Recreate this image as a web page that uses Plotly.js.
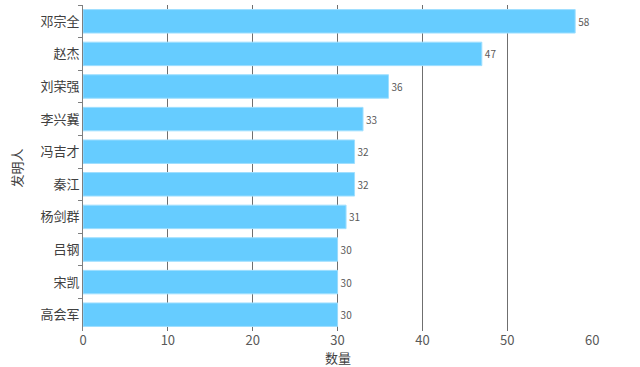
<!DOCTYPE html>
<html><head><meta charset="utf-8">
<script src="https://cdn.plot.ly/plotly-3.0.1.min.js"></script>
<style>html,body{margin:0;padding:0;background:#fff}#c{width:640px;height:367px}</style>
</head><body><div id="c"></div>
<script>
var inventors = ["邓宗全","赵杰","刘荣强","李兴冀","冯吉才","秦江","杨剑群","吕钢","宋凯","高会军"];
var counts = [58,47,36,33,32,32,31,30,30,30];
var xTicks = [0,10,20,30,40,50,60];
var font = "'Noto Sans CJK SC', 'Microsoft YaHei', sans-serif";
Plotly.newPlot("c", [{
  type: "bar", orientation: "h",
  y: inventors, x: counts,
  text: counts.map(String), textposition: "outside", cliponaxis: false,
  textfont: {size: 10, color: "#595959", family: font},
  marker: {color: "#66CCFF", line: {color: "#9fdfff", width: 1}},
  width: 0.72, hoverinfo: "none"
}], {
  width: 640, height: 367,
  margin: {l: 83, r: 47, t: 5, b: 36},
  paper_bgcolor: "#fff", plot_bgcolor: "#fff",
  font: {family: font, color: "#595959", size: 12},
  showlegend: false,
  xaxis: {range: [0, 60.1], tickvals: xTicks, ticktext: xTicks.map(String),
    showgrid: true, gridcolor: "#6f6f6f", gridwidth: 1, zeroline: false,
    showline: false, ticks: "", tickfont: {size: 13, color: "#595959"},
    title: {text: "数量", font: {size: 13, color: "#404040"}, standoff: 1}},
  yaxis: {autorange: "reversed", type: "category", showgrid: false, zeroline: false,
    showline: true, linecolor: "#7f7f7f", linewidth: 1,
    ticks: "outside", tickson: "boundaries", ticklen: 4, tickcolor: "#7f7f7f",
    tickfont: {size: 13, color: "#404040"},
    title: {text: "发明人", font: {size: 13, color: "#404040"}, standoff: 14}}
}, {displayModeBar: false});
</script></body></html>
